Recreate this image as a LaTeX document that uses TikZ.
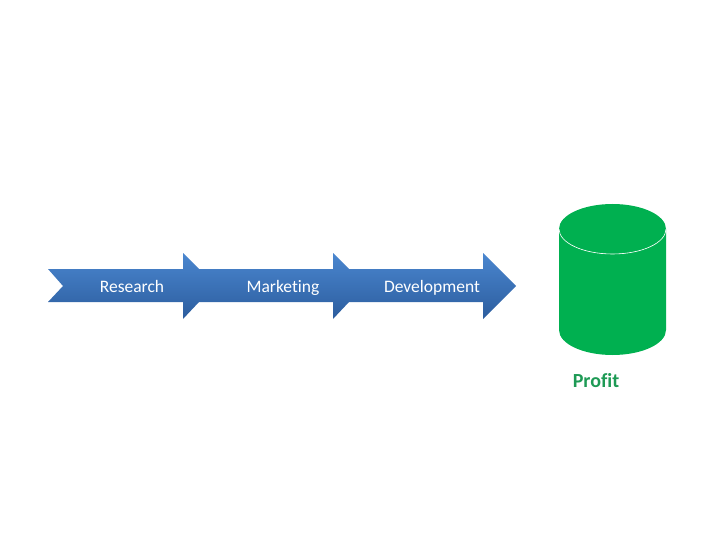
\documentclass[tikz,border=0pt]{standalone}
\usepackage{fontspec}
\setmainfont{Carlito}[Ligatures=NoCommon]
\definecolor{chainTop}{HTML}{4A86CF}
\definecolor{chainBottom}{HTML}{2C5D9E}
\definecolor{profitGreen}{HTML}{00B050}
\definecolor{profitText}{HTML}{1E9A55}
\tikzset{
  steplabel/.style={text=white, font=\fontsize{17.5}{21}\selectfont, text height=1.5ex, text depth=.4ex},
  profitlabel/.style={text=profitText, font=\fontsize{20}{24}\selectfont\bfseries}
}
\begin{document}
\begin{tikzpicture}[x=1pt,y=-1pt]
\useasboundingbox (0,0) rectangle (720,540);

\shade[top color=chainTop, bottom color=chainBottom]
  (48,269) -- (183,269) -- (183,253) -- (199,269) -- (333,269) -- (333,253) -- (349,269)
  -- (483,269) -- (483,253) -- (516,286) -- (483,319) -- (483,302) -- (349,302)
  -- (333,319) -- (333,302) -- (199,302) -- (183,319) -- (183,302) -- (48,302)
  -- (63,286) -- cycle;

\fill[profitGreen] (559,229) -- (559,330) arc[start angle=180, end angle=0, x radius=53.5, y radius=25]
  -- (666,229) arc[start angle=0, end angle=180, x radius=53.5, y radius=25] -- cycle;
\fill[profitGreen] (612.5,229) ellipse[x radius=53.5, y radius=25];
\draw[white, line width=0.6pt] (559,229) arc[start angle=180, end angle=0, x radius=53.5, y radius=25];

\node[steplabel] (research) at (132,289.5) {Research};
\node[steplabel] (marketing) at (283,289.5) {Marketing};
\node[steplabel] (development) at (432,289.5) {Development};
\node[profitlabel] (profit) at (596,381) {Profit};
\end{tikzpicture}
\end{document}
